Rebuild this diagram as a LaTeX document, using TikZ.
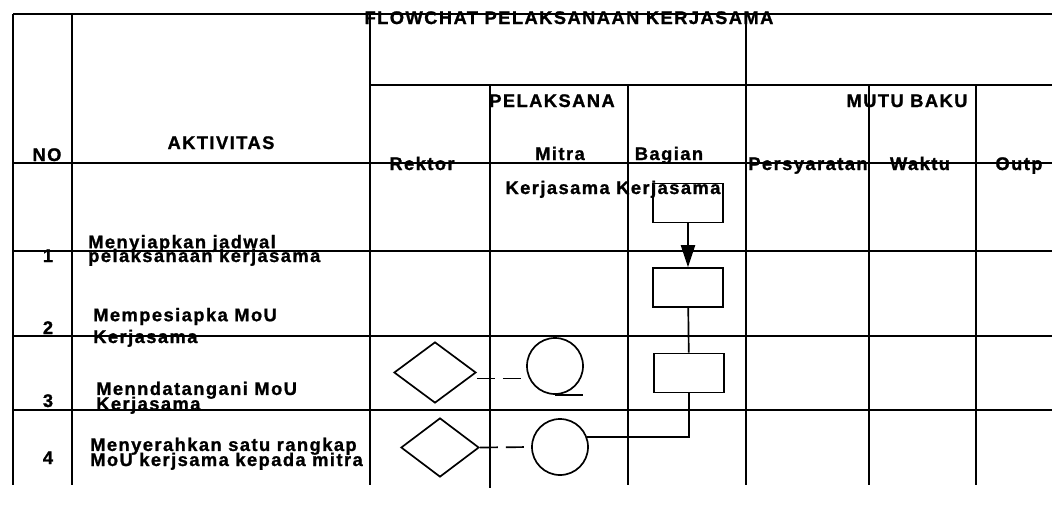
\documentclass[tikz,border=0pt]{standalone}
\usepackage{fontspec}
\setmainfont{Liberation Sans}[LetterSpace=8, BoldFont={Liberation Sans Bold}, BoldFeatures={FakeBold=1.2}]
\usetikzlibrary{positioning}
\usetikzlibrary{shapes.geometric}
\usetikzlibrary{arrows.meta}

\begin{document}
\begin{tikzpicture}[x=0.025cm, y=-0.025cm,
    grid/.style={line width=1.3pt},
    txt/.style={font={\bfseries\fontsize{13}{10.7}\selectfont\lineskiplimit=-20pt}, inner sep=0pt},
    head/.style={txt, anchor=base},
    act/.style={txt, anchor=base west, align=left},
    task/.style={draw, line width=1.2pt, minimum width=1.75cm, minimum height=0.975cm, inner sep=0pt},
    decide/.style={draw, diamond, line width=1.2pt, inner sep=0pt},
    link/.style={draw, circle, line width=1.2pt, minimum size=1.4cm, inner sep=0pt},
    dashlink/.style={line width=1.2pt, dash pattern=on 12.8pt off 5.7pt},
    ]
    \useasboundingbox (0,0) rectangle (1054,527);

    \draw[grid] (13,14) -- (1052,14);
    \draw[grid] (370,85) -- (1052,85);
    \foreach \y in {163,251,336,410}
        \draw[grid] (13,\y) -- (1052,\y);
    \foreach \x in {13,72,370,746}
        \draw[grid] (\x,14) -- (\x,485);
    \foreach \x in {628,869,976}
        \draw[grid] (\x,85) -- (\x,485);
    \draw[line width=2pt] (490,85) -- (490,488);

    \node[head] (title) at (569,24) {FLOWCHAT PELAKSANAAN KERJASAMA};
    \node[head] (no) at (47,161) {NO};
    \node[head] (aktivitas) at (221,149) {AKTIVITAS};
    \node[head] (rektor) at (422,170) {Rektor};
    \node[head] (pelaksana) at (552,107) {PELAKSANA};
    \node[head] (mitra) at (560,160) {Mitra};
    \node[head] (bagian) at (669,160) {Bagian};
    \node[head] (kerjasama) at (613,194) {Kerjasama Kerjasama};
    \node[head] (mutubaku) at (907,107) {MUTU BAKU};
    \node[head] (syarat) at (808,170) {Persyaratan};
    \node[head] (waktu) at (920,170) {Waktu};
    \node[head] (output) at (1019,170) {Outp};

    \node[head] (no1) at (48,262) {1};
    \node[head] (no2) at (48,334) {2};
    \node[head] (no3) at (48,407) {3};
    \node[head] (no4) at (48,464) {4};

    \node[act] (act1) at (88,262) {Menyiapkan jadwal\\[-0.9pt]pelaksanaan kerjasama};
    \node[act] (act2) at (93,343) {Mempesiapka MoU\\[4.8pt]Kerjasama};
    \node[act] (act3) at (96,410) {Menndatangani MoU\\Kerjasama};
    \node[act] (act4) at (90,466) {Menyerahkan satu rangkap\\MoU kerjsama kepada mitra};

    \node[task] (box1) at (688,203) {};
    \node[task] (box2) at (688,287.5) {};
    \node[task] (box3) at (689,373) {};
    \node[decide, minimum width=2.05cm, minimum height=1.525cm] (dia3) at (435,372.5) {};
    \node[decide, minimum width=1.95cm, minimum height=1.475cm] (dia4) at (440,447.5) {};
    \node[link] (cir3) at (555,366) {};
    \node[link] (cir4) at (560,447) {};

    \draw[-{Triangle[length=15.6pt,width=10pt]}, line width=1.2pt] (box1) -- (box2);
    \draw[line width=1.2pt] (box2) -- (box3);
    \draw[line width=1.2pt] (box3.south) |- (cir4.21);
    \draw[line width=1.2pt] (cir3.south) -- ++(28,0);
    \draw[dashlink] ([yshift=-4.3pt]dia3.east) -- ([yshift=-4.3pt]dia3.east -| cir3.west);
    \draw[dashlink] (dia4.east) -- (cir4.west);
\end{tikzpicture}
\end{document}
